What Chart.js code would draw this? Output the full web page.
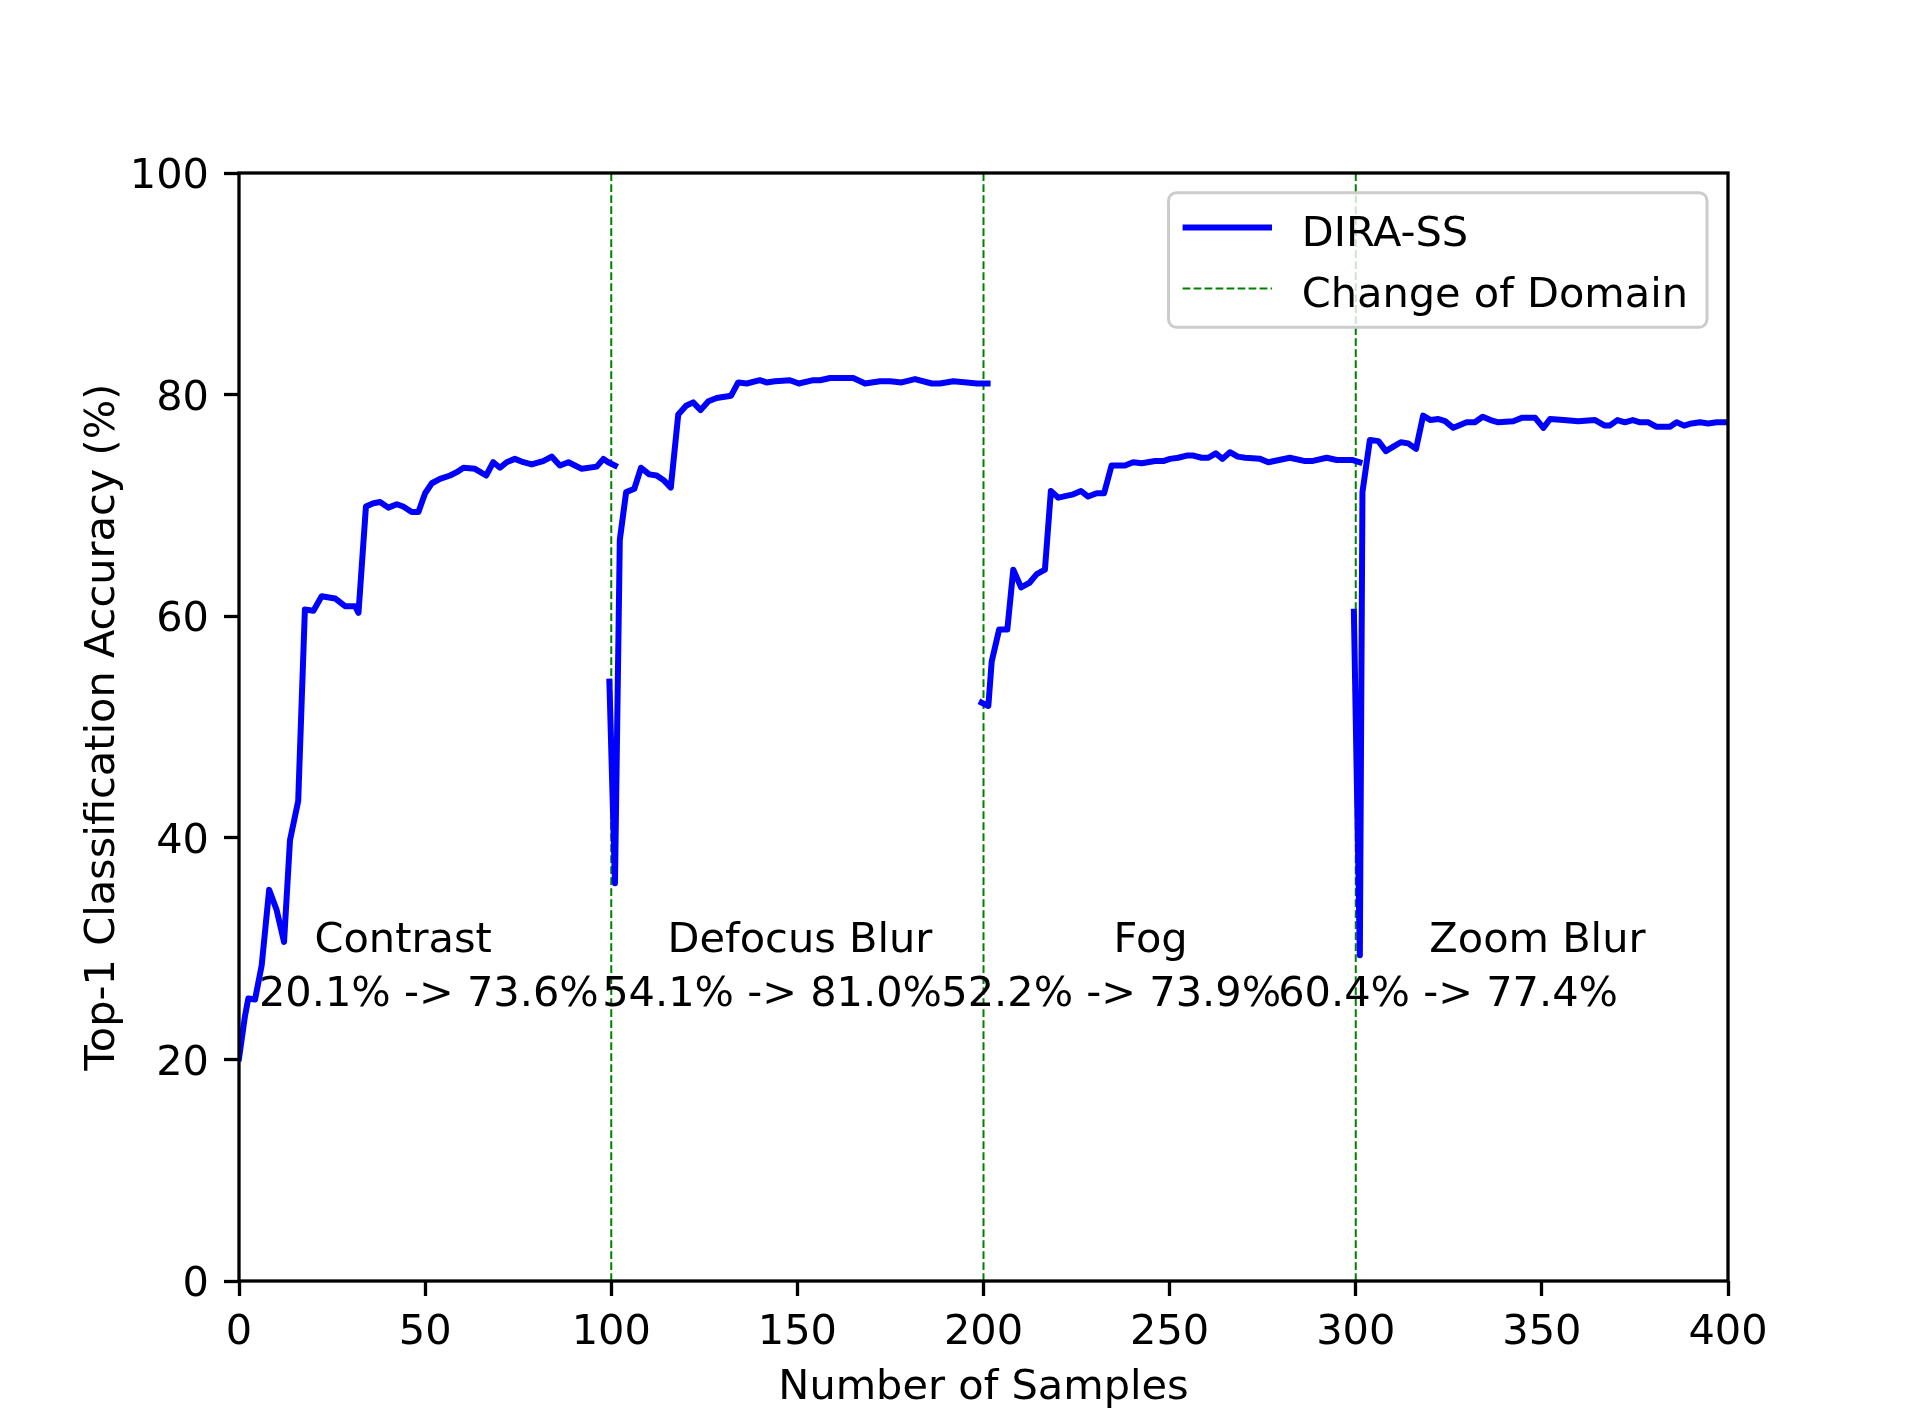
<!DOCTYPE html>
<html>
<head>
<meta charset="utf-8">
<script src="https://cdn.jsdelivr.net/npm/chart.js@4.4.0/dist/chart.umd.min.js"></script>
<style>
  body { margin: 0; background: #fff; }
  #wrap { width: 1922px; height: 1411px; }
</style>
</head>
<body>
<div id="wrap"><canvas id="grafica" width="1922" height="1411"></canvas></div>
<script>
// Datos (x = muestra, y = precision top-1 en %)
var contrastX = [0, 1.6, 2.5, 4.3, 6.1, 8.1, 10.1, 12.1, 13.7, 15.9, 17.7, 20.0, 22.2, 25.8, 28.5, 31.2, 32.1, 34.1, 36.1, 37.9, 40.1, 42.4, 44.1, 46.4, 48.2, 50.0, 51.8, 54.0, 56.7, 58.5, 60.3, 63.4, 66.4, 68.3, 70.1, 71.9, 74.1, 76.4, 78.6, 81.7, 84.0, 86.2, 88.5, 92.1, 96.1, 97.9, 99.2, 101.0];
var contrastY = [20.1, 23.9, 25.5, 25.4, 28.5, 35.3, 33.5, 30.6, 39.8, 43.3, 60.6, 60.5, 61.8, 61.6, 60.9, 60.9, 60.3, 69.9, 70.2, 70.3, 69.8, 70.1, 69.9, 69.4, 69.4, 71.1, 72.0, 72.4, 72.7, 73.0, 73.4, 73.3, 72.7, 73.9, 73.4, 73.9, 74.2, 73.9, 73.7, 74.0, 74.4, 73.6, 73.9, 73.3, 73.5, 74.2, 73.9, 73.6];

var defocusX = [99.5, 101.0, 102.3, 104.0, 106.2, 108.0, 110.2, 112.2, 114.0, 116.0, 118.0, 120.1, 122.0, 124.0, 126.1, 128.3, 132.2, 134.1, 136.4, 139.9, 141.7, 144.0, 148.0, 150.4, 154.3, 156.1, 158.8, 161.5, 165.0, 168.2, 172.2, 174.9, 178.0, 181.6, 186.1, 188.3, 191.9, 195.5, 198.2, 201.1];
var defocusY = [54.1, 35.9, 66.9, 71.2, 71.5, 73.4, 72.8, 72.7, 72.3, 71.6, 78.2, 79.0, 79.3, 78.6, 79.4, 79.7, 79.9, 81.1, 81.0, 81.3, 81.1, 81.2, 81.3, 81.0, 81.3, 81.3, 81.5, 81.5, 81.5, 81.0, 81.2, 81.2, 81.1, 81.4, 81.0, 81.0, 81.2, 81.1, 81.0, 81.0];

var fogX = [199.5, 201.3, 202.2, 204.2, 206.4, 208.0, 210.1, 212.3, 214.3, 216.5, 218.1, 220.1, 224.1, 226.2, 228.1, 230.4, 232.4, 234.4, 238.0, 240.2, 242.5, 246.1, 248.3, 250.1, 252.3, 254.6, 256.4, 258.6, 260.4, 262.4, 264.2, 266.2, 268.3, 270.3, 274.3, 276.5, 282.3, 286.4, 288.2, 292.2, 294.9, 296.7, 299.0, 301.0];
var fogY = [52.2, 51.9, 55.9, 58.8, 58.8, 64.2, 62.6, 63.0, 63.8, 64.2, 71.3, 70.7, 71.0, 71.3, 70.8, 71.1, 71.1, 73.6, 73.6, 73.9, 73.8, 74.0, 74.0, 74.2, 74.3, 74.5, 74.5, 74.3, 74.3, 74.7, 74.2, 74.8, 74.4, 74.3, 74.2, 73.9, 74.3, 74.0, 74.0, 74.3, 74.1, 74.1, 74.1, 73.9];

var zoomX = [299.5, 301.1, 301.8, 303.8, 306.1, 308.1, 310.1, 312.1, 314.1, 316.2, 318.1, 320.1, 322.2, 324.0, 326.2, 329.8, 332.0, 334.1, 336.2, 338.3, 342.3, 344.6, 348.2, 350.4, 352.2, 355.8, 359.8, 364.3, 366.9, 368.2, 370.3, 372.3, 374.4, 376.4, 378.6, 380.7, 384.4, 386.2, 388.2, 390.2, 392.5, 394.7, 397.0, 399.6, 401.0];
var zoomY = [60.4, 29.4, 71.2, 75.9, 75.8, 74.9, 75.3, 75.7, 75.6, 75.1, 78.1, 77.7, 77.8, 77.6, 77.0, 77.5, 77.5, 78.0, 77.7, 77.5, 77.6, 77.9, 77.9, 77.0, 77.8, 77.7, 77.6, 77.7, 77.2, 77.2, 77.7, 77.5, 77.7, 77.5, 77.5, 77.1, 77.1, 77.5, 77.2, 77.4, 77.5, 77.4, 77.5, 77.5, 77.4];

var cambiosDominio = [100, 200, 300];
var nombresDominio = ["Contrast", "Defocus Blur", "Fog", "Zoom Blur"];
var textosPrecision = ["20.1% -> 73.6%", "54.1% -> 81.0%", "52.2% -> 73.9%", "60.4% -> 77.4%"];
var xTicks = [0, 50, 100, 150, 200, 250, 300, 350, 400];
var yTicks = [0, 20, 40, 60, 80, 100];

// posicion de los textos (en unidades de datos)
var centroNombre = [44.1, 150.7, 244.9, 348.8];
var centroPrecision = [51.0, 143.2, 234.3, 324.8];

var FUENTE = "'DejaVu Sans', sans-serif";
var TAM = 41.5;

function puntos(xs, ys) {
  return xs.map(function (x, i) { return { x: x, y: ys[i] }; });
}

var datasets = [];
var segmentos = [[contrastX, contrastY], [defocusX, defocusY], [fogX, fogY], [zoomX, zoomY]];
segmentos.forEach(function (s, i) {
  datasets.push({
    label: i === 0 ? "DIRA-SS" : "_DIRA-SS" + i,
    data: puntos(s[0], s[1]),
    borderColor: "#0000ff",
    borderWidth: 6,
    pointRadius: 0,
    fill: false,
    tension: 0,
    borderJoinStyle: "round",
    borderCapStyle: "square",
    order: 1
  });
});
cambiosDominio.forEach(function (x, i) {
  datasets.push({
    label: i === 0 ? "Change of Domain" : "_cambio" + i,
    data: [{ x: x, y: yTicks[0] }, { x: x, y: yTicks[yTicks.length - 1] }],
    borderColor: "#008000",
    borderWidth: 2,
    borderDash: [7.7, 3.3],
    pointRadius: 0,
    fill: false,
    order: 2
  });
});

/*
* Textos de cada dominio, marco de los ejes y leyenda estilo matplotlib
*/
var extras = {
  id: "extras",
  afterDatasetsDraw: function (chart) {
    var ctx = chart.ctx, xs = chart.scales.x, ys = chart.scales.y, a = chart.chartArea;
    ctx.save();
    ctx.fillStyle = "#000";
    ctx.font = TAM + "px " + FUENTE;
    ctx.textAlign = "center";
    ctx.textBaseline = "alphabetic";
    nombresDominio.forEach(function (t, i) {
      ctx.fillText(t, xs.getPixelForValue(centroNombre[i]), ys.getPixelForValue(29.7));
    });
    textosPrecision.forEach(function (t, i) {
      ctx.fillText(t, xs.getPixelForValue(centroPrecision[i]), ys.getPixelForValue(24.8));
    });

    // marco
    ctx.strokeStyle = "#000";
    ctx.lineWidth = 3.3;
    ctx.strokeRect(a.left, a.top, a.right - a.left, a.bottom - a.top);

    // leyenda
    var bx = 1168.5, by = 192.7, bw = 538.5, bh = 134.6, r = 8;
    ctx.beginPath();
    ctx.moveTo(bx + r, by);
    ctx.arcTo(bx + bw, by, bx + bw, by + bh, r);
    ctx.arcTo(bx + bw, by + bh, bx, by + bh, r);
    ctx.arcTo(bx, by + bh, bx, by, r);
    ctx.arcTo(bx, by, bx + bw, by, r);
    ctx.closePath();
    ctx.fillStyle = "rgba(255,255,255,0.8)";
    ctx.fill();
    ctx.strokeStyle = "#cccccc";
    ctx.lineWidth = 3;
    ctx.stroke();

    var filas = chart.data.datasets.filter(function (d) { return d.label.charAt(0) !== "_"; });
    var yFila = [227.5, 288.5];
    filas.forEach(function (d, i) {
      ctx.beginPath();
      ctx.strokeStyle = d.borderColor;
      ctx.lineWidth = d.borderWidth;
      ctx.setLineDash(d.borderDash || []);
      ctx.moveTo(1182.6, yFila[i]);
      ctx.lineTo(1272, yFila[i]);
      ctx.stroke();
      ctx.setLineDash([]);
      ctx.fillStyle = "#000";
      ctx.textAlign = "left";
      ctx.fillText(d.label, 1301.7, yFila[i] + 18.5);
    });
    ctx.restore();
  }
};

var fuenteTicks = { family: FUENTE, size: TAM };

new Chart(document.getElementById("grafica"), {
  type: "line",
  data: { datasets: datasets },
  options: {
    responsive: false,
    animation: false,
    layout: { padding: { top: 173, right: 194, left: 0, bottom: 0 } },
    plugins: { legend: { display: false }, tooltip: { enabled: false } },
    scales: {
      x: {
        type: "linear",
        min: xTicks[0],
        max: xTicks[xTicks.length - 1],
        afterBuildTicks: function (s) { s.ticks = xTicks.map(function (v) { return { value: v }; }); },
        afterFit: function (s) { s.height = 130; },
        border: { display: false },
        grid: { drawOnChartArea: false, drawTicks: true, tickLength: 15, tickWidth: 3.3, tickColor: "#000" },
        ticks: { color: "#000", font: fuenteTicks, padding: 12, maxRotation: 0 },
        title: { display: true, text: "Number of Samples", color: "#000", font: { family: FUENTE, size: TAM, lineHeight: 1 }, padding: { top: 0, bottom: 2 } }
      },
      y: {
        min: yTicks[0],
        max: yTicks[yTicks.length - 1],
        afterBuildTicks: function (s) { s.ticks = yTicks.map(function (v) { return { value: v }; }); },
        afterFit: function (s) { s.width = 239; },
        border: { display: false },
        grid: { drawOnChartArea: false, drawTicks: true, tickLength: 15, tickWidth: 3.3, tickColor: "#000" },
        // linea vacia para bajar un poco la etiqueta, como en matplotlib
        ticks: { color: "#000", font: { family: FUENTE, size: TAM, lineHeight: "9px" }, padding: 15,
                 callback: function (v) { return ["", String(v)]; } },
        title: { display: true, text: "Top-1 Classification Accuracy (%)", color: "#000", font: { family: FUENTE, size: TAM }, padding: { top: 78, bottom: 0 } }
      }
    }
  },
  plugins: [extras]
});
</script>
</body>
</html>
